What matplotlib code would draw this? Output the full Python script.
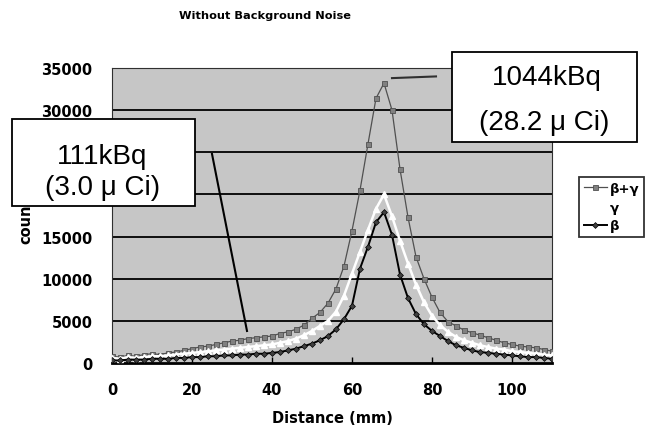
import numpy as np
import matplotlib
matplotlib.use("Agg")
import matplotlib.pyplot as plt
from matplotlib.patches import Rectangle

# distance (mm)
distance = list(range(0, 111, 2))

# beta + gamma counts
counts_bg = [800, 700, 900, 800, 1000, 1100, 1000, 1200, 1300, 1500,
             1700, 1900, 2000, 2200, 2400, 2600, 2700, 2900, 3000, 3100,
             3200, 3500, 3700, 4000, 4500, 5300, 6000, 7100, 8800, 11500,
             15700, 20500, 26000, 31400, 33200, 30000, 23000, 17300, 12600, 10000,
             7800, 6000, 4900, 4400, 3900, 3600, 3300, 3000, 2700, 2400,
             2200, 2000, 1900, 1800, 1600, 1400]

# gamma counts
counts_g = [600, 500, 700, 600, 700, 800, 800, 900, 1000, 1100,
            1200, 1300, 1400, 1500, 1600, 1700, 1800, 1900, 2000, 2100,
            2200, 2400, 2600, 2900, 3300, 3800, 4400, 5000, 6100, 8000,
            10600, 13200, 15800, 18300, 20000, 17400, 14500, 11800, 9300, 7200,
            5600, 4500, 3700, 3100, 2700, 2400, 2100, 1900, 1700, 1600,
            1400, 1300, 1200, 1100, 1000, 900]

# beta counts
counts_b = [300, 300, 400, 400, 400, 500, 500, 500, 600, 600,
            700, 700, 800, 800, 900, 900, 1000, 1000, 1100, 1100,
            1200, 1300, 1500, 1700, 2000, 2300, 2700, 3200, 4000, 5200,
            6800, 11200, 13800, 16700, 17900, 15200, 10500, 7700, 5800, 4600,
            3800, 3200, 2600, 2100, 1800, 1500, 1300, 1200, 1100, 1000,
            900, 800, 700, 700, 600, 500]

x_ticks = [0, 20, 40, 60, 80, 100]
y_ticks = [0, 5000, 10000, 15000, 20000, 25000, 30000, 35000]

W, H = 647, 427
fig = plt.figure(figsize=(W / 100, H / 100), dpi=100)
ax = fig.add_axes([112 / W, 1 - 364 / H, 440 / W, 295 / H])
ax.set_facecolor('#c6c6c6')

ax.plot(distance, counts_bg, color='#505050', lw=0.9, marker='s', ms=3.6,
        mfc='#808080', mec='#505050', mew=0.6, label='β+γ', zorder=3)
ax.plot(distance, counts_g, color='white', lw=1.8, marker='^', ms=4,
        mfc='white', mec='white', label='γ', zorder=3)
ax.plot(distance, counts_b, color='black', lw=1.4, marker='D', ms=3,
        mfc='#404040', mec='black', mew=0.5, label='β', zorder=4)

ax.set_xlim(0, 110)
ax.set_ylim(0, 35000)
ax.set_xticks(x_ticks)
ax.set_yticks(y_ticks)
for yv in y_ticks[1:-1]:
    ax.axhline(yv, color='black', lw=1.3, zorder=1)

ax.tick_params(axis='x', direction='in', length=4, width=1, pad=14,
               labelsize=10.5)
ax.tick_params(axis='y', length=0, pad=14, labelsize=10.5)
for lab in ax.get_xticklabels() + ax.get_yticklabels():
    lab.set_fontweight('bold')

for side in ['left', 'top', 'right']:
    ax.spines[side].set_linewidth(0.8)
    ax.spines[side].set_color('#303030')
ax.spines['bottom'].set_linewidth(2)

ax.set_xlabel('Distance (mm)', fontsize=10.5, fontweight='bold', labelpad=9)
ax.set_ylabel('counts', fontsize=10.5, fontweight='bold', labelpad=6)

fig.text(265 / W, 1 - 16 / H, 'Without Background Noise', ha='center',
         va='center', fontsize=8.2, fontweight='bold')

# pointer lines to the boxes
ax.plot([25, 33.75], [24800, 3800], color='black', lw=1.5, zorder=5)
ax.plot([70, 81], [33800, 34000], color='#303030', lw=1.5, zorder=5)

# annotation boxes
fig.patches.append(Rectangle((12 / W, 1 - 207 / H), 183 / W, 87 / H,
                             transform=fig.transFigure, facecolor='white',
                             edgecolor='black', lw=1.3, zorder=10))
fig.text(102 / W, 1 - 157 / H, '111kBq', ha='center', va='center',
         fontsize=20, family='Liberation Sans', zorder=11)
fig.text(103 / W, 1 - 188 / H, '(3.0 μ Ci)', ha='center', va='center',
         fontsize=20, family='Liberation Sans', zorder=11)

fig.patches.append(Rectangle((452 / W, 1 - 143 / H), 185 / W, 90 / H,
                             transform=fig.transFigure, facecolor='white',
                             edgecolor='black', lw=1.3, zorder=10))
fig.text(547 / W, 1 - 78 / H, '1044kBq', ha='center', va='center',
         fontsize=20, family='Liberation Sans', zorder=11)
fig.text(544 / W, 1 - 123 / H, '(28.2 μ Ci)', ha='center', va='center',
         fontsize=20, family='Liberation Sans', zorder=11)

leg = fig.legend(loc='upper left', bbox_to_anchor=(579 / W, 1 - 178 / H),
                 borderaxespad=0, frameon=True, fancybox=False,
                 edgecolor='black', handlelength=1.8, handletextpad=0.2,
                 borderpad=0.35, labelspacing=0.45,
                 prop={'weight': 'bold', 'size': 9.5})
leg.get_frame().set_linewidth(1.3)

fig.savefig('out.png', dpi=100)
